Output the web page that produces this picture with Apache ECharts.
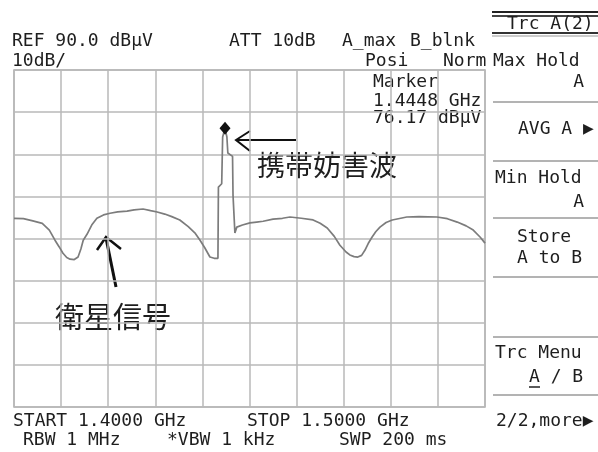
<!DOCTYPE html>
<html><head><meta charset="utf-8">
<script src="https://cdn.jsdelivr.net/npm/echarts@6/dist/echarts.min.js"></script>
<style>html,body{margin:0;padding:0;background:#fff}#c{width:598px;height:452px}</style>
</head><body><div id="c"></div>
<script>
// Frequency (MHz) and level (dBuV)
const freqMHz = [1400.0,1402.0,1404.0,1406.0,1407.5,1408.7,1409.6,1410.4,1411.2,1411.9,1412.8,1413.6,1414.2,1414.7,1415.5,1416.5,1417.6,1419.0,1420.4,1422.0,1424.0,1425.5,1427.4,1429.0,1430.4,1432.0,1433.5,1435.2,1437.0,1438.5,1439.5,1440.5,1441.6,1442.5,1443.3,
  1443.4,1444.1,1444.3,1444.8,1445.2,1445.4,1446.4,1446.5,1446.9,
  1447.3,1448.5,1450.1,1451.5,1452.9,1455.0,1457.0,1458.6,1461.0,1463.5,1465.0,1466.5,1468.0,1469.2,1470.5,1471.3,1472.2,1473.0,1473.8,1474.5,1475.2,1476.0,1476.8,1477.7,1479.0,1480.3,1483.4,1486.0,1489.8,1492.0,1494.1,1496.0,1497.5,1499.0,1500.0];
const levelDb = [54.8,54.7,54.2,53.6,52.0,49.6,48.0,46.5,45.5,45.1,45.0,45.6,47.5,49.6,51.0,53.2,54.8,55.6,56.0,56.3,56.5,56.8,57.0,56.6,56.3,55.8,55.2,54.4,52.8,51.2,49.6,47.8,45.6,45.3,45.3,
  62.2,63.0,74.1,76.17,74.1,70.3,69.5,60.3,51.3,
  52.7,53.2,53.7,53.9,54.1,54.6,54.8,55.1,54.8,54.4,53.6,52.5,50.5,48.4,46.8,46.1,45.7,45.6,46.0,47.2,48.8,50.3,51.6,52.7,53.8,54.4,55.1,55.2,55.1,54.7,53.9,53.0,52.0,50.3,48.9];
const markerFreq = 1444.8;
const markerLevel = 76.17;
const xMin = 1400, xMax = 1500, xStep = 10;
const yMin = 10, yMax = 90, yStep = 10;

const mono = '18px "DejaVu Sans Mono"';
const ink = '#1e1e1e';
function txt(x, y, s, align) {
  return {type:'text', x:x, y:y, silent:true,
    style:{text:s, font:mono, fill:ink, align:align||'left', verticalAlign:'middle'}};
}
function hline(x1, x2, y, w, c) {
  return {type:'line', silent:true, shape:{x1:x1,y1:y,x2:x2,y2:y}, style:{stroke:c||'#9a9a9a', lineWidth:w||1.5}};
}
const chart = echarts.init(document.getElementById('c'));
chart.setOption({
  backgroundColor:'#fff',
  animation:false,
  grid:{left:14, right:113, top:70, bottom:45, show:true, borderColor:'#b0b0b0', borderWidth:1.5},
  xAxis:{type:'value', min:xMin, max:xMax, interval:xStep,
    axisLine:{show:false}, axisTick:{show:false}, axisLabel:{show:false},
    splitLine:{show:true, lineStyle:{color:'#b8b8b8', width:1.5}}},
  yAxis:{type:'value', min:yMin, max:yMax, interval:yStep,
    axisLine:{show:false}, axisTick:{show:false}, axisLabel:{show:false},
    splitLine:{show:true, lineStyle:{color:'#b8b8b8', width:1.5}}},
  series:[{
    type:'line', data:freqMHz.map((f,i)=>[f, levelDb[i]]),
    showSymbol:false, lineStyle:{color:'#7c7c7c', width:1.7},
    markPoint:{symbol:'diamond', symbolSize:[11,13], itemStyle:{color:'#111'}, label:{show:false},
      data:[{coord:[markerFreq, markerLevel]}]}
  }],
  graphic:[
    txt(12,41,'REF 90.0 dBμV'),
    txt(12,61,'10dB/'),
    txt(229,41,'ATT 10dB'),
    txt(342,41,'A_max'),
    txt(410,41,'B_blnk'),
    txt(365,61,'Posi'),
    txt(443,61,'Norm'),
    txt(373,82,'Marker'),
    txt(373,101,'1.4448 GHz'),
    txt(373,118,'76.17 dBμV'),
    hline(492,598,12,2,'#222'),
    hline(492,598,16,2,'#444'),
    txt(507,24,'Trc A(2)'),
    hline(492,598,33,2,'#333'),
    hline(492,598,36,1.2,'#999'),
    txt(493,61,'Max Hold'),
    txt(584,82,'A','right'),
    hline(493,598,102),
    txt(518,129,'AVG A ▶'),
    hline(493,598,161),
    txt(495,178,'Min Hold'),
    txt(584,202,'A','right'),
    hline(493,598,218),
    txt(517,237,'Store'),
    txt(517,258,'A to B'),
    hline(493,598,277),
    hline(493,598,337),
    txt(495,353,'Trc Menu'),
    txt(529,377,'A / B'),
    hline(529,540,387,1.5,'#222'),
    hline(493,598,395),
    txt(496,421,'2/2,more▶'),
    txt(13,421,'START 1.4000 GHz'),
    txt(247,421,'STOP 1.5000 GHz'),
    txt(23,440,'RBW 1 MHz'),
    txt(167,440,'*VBW 1 kHz'),
    txt(339,440,'SWP 200 ms'),
    {type:'text', x:257, y:165, silent:true,
      style:{text:'携帯妨害波', font:'28px "Noto Sans CJK JP"', fill:ink, verticalAlign:'middle'}},
    {type:'text', x:55, y:317, silent:true,
      style:{text:'衛星信号', font:'29px "Noto Sans CJK JP"', fill:ink, verticalAlign:'middle'}},
    {type:'polyline', silent:true, shape:{points:[[250,131],[236,140],[250,151]]}, style:{stroke:'#111', lineWidth:2, fill:null}},
    {type:'line', silent:true, shape:{x1:237,y1:140,x2:296,y2:140}, style:{stroke:'#111', lineWidth:2}},
    {type:'polyline', silent:true, shape:{points:[[97,250],[106,237],[121,249]]}, style:{stroke:'#111', lineWidth:2.5, fill:null}},
    {type:'line', silent:true, shape:{x1:106,y1:238,x2:116,y2:287}, style:{stroke:'#111', lineWidth:3}}
  ]
});
</script></body></html>
